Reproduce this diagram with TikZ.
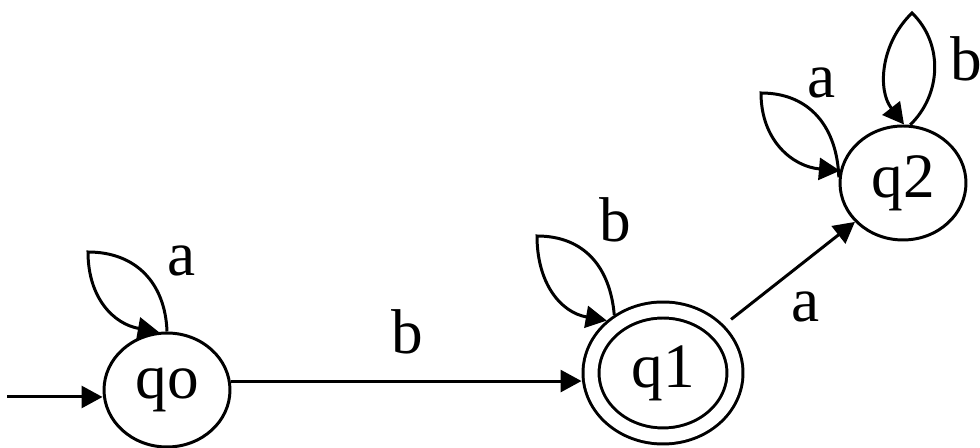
\documentclass[tikz,border=0pt]{standalone}
\usepackage{fontspec}
\setmainfont{Liberation Serif}
\usetikzlibrary{arrows.meta, shapes.geometric}

\begin{document}
\begin{tikzpicture}[
          x=0.02cm, y=0.02cm, line width=1.7pt,
          >={Triangle[length=0.42cm, width=0.44cm]},
          every node/.style={font=\fontsize{36}{40}\selectfont, inner sep=0pt},
          state/.style={draw, ellipse, minimum width=2.52cm, minimum height=2.28cm},
          accepting/.style={draw, ellipse, double, double distance=0.26cm,
                            minimum width=2.88cm, minimum height=2.52cm, outer sep=0.19cm}
        ]
        \useasboundingbox (0,0) rectangle (980,448);
        \node[state] (q0) at (167,58) {qo};
        \node[accepting] (q1) at (663,75) {q1};
        \node[state] (q2) at (903,265) {q2};
        \coordinate (init) at (7,51);
        \coordinate (q0top) at (88,196);
        \coordinate (q1top) at (537,212);
        \coordinate (q2left) at (761,355);
        \coordinate (q2up) at (912,435);
        \draw[->] (init) -- (init -| q0.west);
        \draw[->] (q0.8) -- (q0.8 -| q1.west);
        \draw[->, shorten <=0.18cm] (q1) -- (q2.219);
        \draw[->, looseness=1.1] (q0.north) to[out=92, in=0] (q0top) to[out=-90, in=170] (q0.98);
        \draw[->, looseness=1.1] (q1.130) to[out=95, in=0] (q1top) to[out=-90, in=170] (q1.137);
        \draw[->, looseness=1.1] (q2.175) to[out=92, in=0] (q2left) to[out=-90, in=175] (q2.169);
        \draw[->] (q2.83) to[out=44, in=-44] (q2up) to[out=-136, in=128] (q2.89);
        \node (lq0a) at (182,187) {a};
        \node (lq0q1) at (407,116) {b};
        \node (lq1b) at (615,228) {b};
        \node (lq1q2) at (806,141) {a};
        \node (lq2a) at (822,365) {a};
        \node (lq2b) at (966,389) {b};
      \end{tikzpicture}
\end{document}
